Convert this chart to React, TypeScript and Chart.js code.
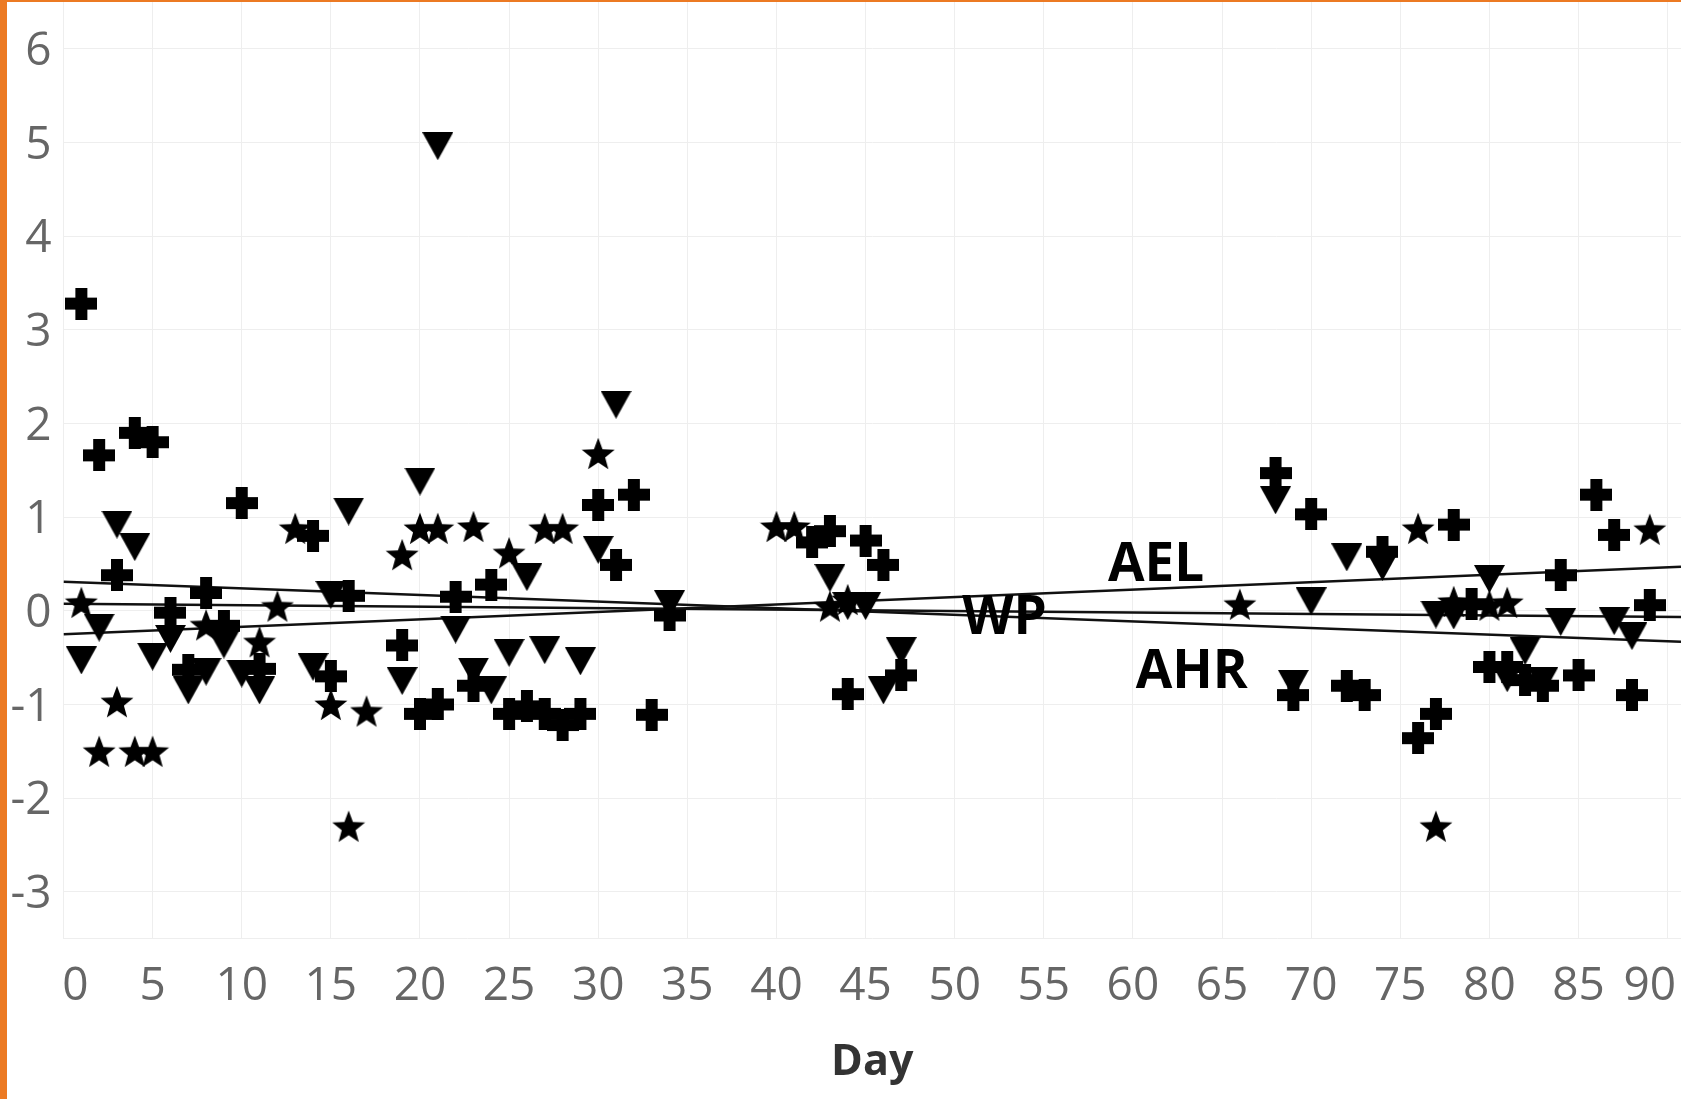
import React, { useEffect, useRef } from 'react';
import { Chart, registerables } from 'chart.js';

Chart.register(...registerables);

// Plus-shaped markers
const crossDays = [1, 2, 3, 4, 5, 6, 7, 8, 9, 10, 11, 14, 15, 16, 19, 20, 21, 22, 23, 24, 25, 26, 27, 28, 29, 30, 31, 32, 33, 34, 42, 43, 44, 45, 46, 47, 68, 69, 70, 72, 73, 74, 76, 77, 78, 79, 80, 81, 82, 83, 84, 85, 86, 87, 88, 89];
const crossValues = [3.28, 1.66, 0.38, 1.9, 1.8, -0.02, -0.63, 0.19, -0.16, 1.15, -0.62, 0.8, -0.7, 0.16, -0.37, -1.1, -1.0, 0.15, -0.8, 0.28, -1.1, -1.02, -1.1, -1.22, -1.1, 1.13, 0.49, 1.24, -1.11, -0.05, 0.73, 0.85, -0.89, 0.75, 0.49, -0.69, 1.47, -0.9, 1.03, -0.8, -0.9, 0.63, -1.36, -1.1, 0.92, 0.07, -0.6, -0.6, -0.74, -0.8, 0.38, -0.69, 1.24, 0.81, -0.9, 0.06];

// Downward-triangle markers
const triangleDays = [1, 2, 3, 4, 5, 6, 7, 8, 9, 10, 11, 14, 15, 16, 19, 20, 21, 22, 23, 24, 25, 26, 27, 29, 30, 31, 34, 43, 44, 45, 46, 47, 68, 69, 70, 72, 74, 77, 78, 80, 81, 82, 83, 84, 87, 88];
const triangleValues = [-0.53, -0.18, 0.92, 0.68, -0.49, -0.3, -0.85, -0.65, -0.36, -0.67, -0.85, -0.6, 0.17, 1.06, -0.75, 1.38, 4.96, -0.2, -0.65, -0.85, -0.45, 0.36, -0.42, -0.54, 0.65, 2.2, 0.07, 0.35, 0.05, 0.05, -0.85, -0.43, 1.18, -0.78, 0.1, 0.57, 0.47, -0.04, -0.05, 0.34, -0.72, -0.43, -0.75, -0.12, -0.11, -0.27];

// Star markers
const starDays = [1, 2, 3, 4, 5, 8, 11, 12, 13, 15, 16, 17, 19, 20, 21, 23, 25, 27, 28, 30, 40, 41, 43, 44, 66, 76, 77, 78, 80, 81, 89];
const starValues = [0.09, -1.5, -0.97, -1.5, -1.5, -0.15, -0.33, 0.05, 0.88, -1.0, -2.3, -1.07, 0.6, 0.88, 0.88, 0.9, 0.62, 0.88, 0.88, 1.68, 0.9, 0.9, 0.05, 0.12, 0.07, 0.88, -2.3, 0.1, 0.06, 0.09, 0.87];

// Trend lines (values at the two ends of the day axis)
const trendDays = [0, 90.75];
const aelTrend = [-0.25, 0.47];
const wpTrend = [0.075, -0.065];
const ahrTrend = [0.31, -0.33];

// Trend line labels
const lineLabels = ['AEL', 'WP', 'AHR'];
const lineLabelDays = [61.3, 52.8, 63.3];
const lineLabelValues = [0.48, -0.09, -0.66];

// Axes
const xTicks = [0, 5, 10, 15, 20, 25, 30, 35, 40, 45, 50, 55, 60, 65, 70, 75, 80, 85, 90];
const yTicks = [-3, -2, -1, 0, 1, 2, 3, 4, 5, 6];
const xMin = 0;
const xMax = 90.75;
const yMin = -3.5;
const yMax = 6.5;

const toPoints = (xs: number[], ys: number[]) => xs.map((x, i) => ({ x, y: ys[i] }));

function makeCross(size: number, arm: number) {
  const c = document.createElement('canvas');
  c.width = size;
  c.height = size;
  const g = c.getContext('2d')!;
  g.fillStyle = '#000';
  const o = (size - arm) / 2;
  g.fillRect(o, 0, arm, size);
  g.fillRect(0, o, size, arm);
  return c;
}

function makeTriangle(w: number, h: number) {
  const c = document.createElement('canvas');
  c.width = w;
  c.height = h;
  const g = c.getContext('2d')!;
  g.fillStyle = '#000';
  g.beginPath();
  g.moveTo(0, 0);
  g.lineTo(w, 0);
  g.lineTo(w / 2, h);
  g.closePath();
  g.fill();
  return c;
}

function makeStar(R: number, innerRatio: number) {
  const w = Math.ceil(2 * R * Math.sin((72 * Math.PI) / 180)) + 1;
  const hStar = R * (1 + Math.cos((36 * Math.PI) / 180));
  const h = Math.ceil(hStar) + 1;
  const c = document.createElement('canvas');
  c.width = w;
  c.height = h;
  const g = c.getContext('2d')!;
  g.fillStyle = '#000';
  const cx = w / 2;
  const cy = (h - hStar) / 2 + R;
  g.beginPath();
  for (let i = 0; i < 10; i++) {
    const r = i % 2 === 0 ? R : R * innerRatio;
    const a = -Math.PI / 2 + (i * Math.PI) / 5;
    const px = cx + r * Math.cos(a);
    const py = cy + r * Math.sin(a);
    if (i === 0) g.moveTo(px, py);
    else g.lineTo(px, py);
  }
  g.closePath();
  g.fill();
  return c;
}

const labelPlugin = {
  id: 'trendLabels',
  afterDatasetsDraw(chart: any) {
    const { ctx, scales } = chart;
    ctx.save();
    ctx.font = '700 53px "Open Sans"';
    ctx.fillStyle = '#000';
    ctx.textAlign = 'center';
    ctx.textBaseline = 'middle';
    lineLabels.forEach((t, i) => {
      ctx.fillText(t, scales.x.getPixelForValue(lineLabelDays[i]), scales.y.getPixelForValue(lineLabelValues[i]));
    });
    ctx.restore();
  },
};

export default function App() {
  const ref = useRef<HTMLCanvasElement | null>(null);

  useEffect(() => {
    if (!ref.current) return;
    const crossImg = makeCross(32, 12);
    const triImg = makeTriangle(31, 28);
    const starImg = makeStar(17.3, 0.42);

    const lineStyle = {
      type: 'line' as const,
      borderColor: '#111',
      borderWidth: 2.5,
      pointRadius: 0,
      fill: false,
      tension: 0,
    };

    const chart = new Chart(ref.current, {
      type: 'scatter',
      data: {
        datasets: [
          { label: 'Cross', data: toPoints(crossDays, crossValues), pointStyle: crossImg as any, pointRadius: 16, backgroundColor: '#000', borderColor: '#000' },
          { label: 'Triangle', data: toPoints(triangleDays, triangleValues), pointStyle: triImg as any, pointRadius: 15, backgroundColor: '#000', borderColor: '#000' },
          { label: 'Star', data: toPoints(starDays, starValues), pointStyle: starImg as any, pointRadius: 16, backgroundColor: '#000', borderColor: '#000' },
          { ...lineStyle, label: 'AEL', data: toPoints(trendDays, aelTrend) } as any,
          { ...lineStyle, label: 'WP', data: toPoints(trendDays, wpTrend) } as any,
          { ...lineStyle, label: 'AHR', data: toPoints(trendDays, ahrTrend) } as any,
        ],
      },
      options: {
        responsive: false,
        animation: false,
        devicePixelRatio: 1,
        layout: { padding: 0, autoPadding: false },
        plugins: { legend: { display: false }, tooltip: { enabled: false } },
        scales: {
          x: {
            type: 'linear',
            min: xMin,
            max: xMax,
            afterBuildTicks: (s: any) => {
              s.ticks = xTicks.map((v) => ({ value: v }));
            },
            afterFit: (s: any) => {
              s.height = 160.4;
              s.paddingLeft = 0;
              s.paddingRight = 0;
            },
            ticks: {
              maxRotation: 0,
              autoSkip: false,
              padding: 21,
              color: '#666',
              font: { family: '"Open Sans"', size: 46 },
              callback: (v: any) => {
                if (v === 0) return '\u00A0\u00A00';
                if (v === 90) return '90\u00A0\u00A0\u00A0';
                return String(v);
              },
            },
            grid: { color: '#eeeeee', lineWidth: 1, drawTicks: false },
            border: { display: true, color: '#eeeeee' },
            title: {
              display: true,
              text: 'Day',
              color: '#333',
              font: { family: '"Open Sans"', size: 43, weight: 'bold' },
              padding: { top: 0, bottom: 10 },
            },
          },
          y: {
            type: 'linear',
            min: yMin,
            max: yMax,
            afterBuildTicks: (s: any) => {
              s.ticks = yTicks.map((v) => ({ value: v }));
            },
            afterFit: (s: any) => {
              s.width = 56.5;
              s.paddingTop = 0;
              s.paddingBottom = 0;
            },
            ticks: {
              padding: 12,
              labelOffset: 3,
              color: '#666',
              font: { family: '"Open Sans"', size: 46 },
              callback: (v: any) => String(v),
            },
            grid: { color: '#eeeeee', lineWidth: 1, drawTicks: false },
            border: { display: false },
          },
        },
      },
      plugins: [labelPlugin],
    });
    return () => chart.destroy();
  }, []);

  return (
    <div style={{ position: 'fixed', left: 0, top: 0, width: 1681, height: 1099, background: '#fff', overflow: 'hidden' }}>
      <div style={{ position: 'absolute', left: 0, top: 0, width: 7, height: 1099, background: '#ec7a23' }} />
      <div style={{ position: 'absolute', left: 0, top: 0, width: 1681, height: 2, background: '#ec7a23' }} />
      <div style={{ position: 'absolute', left: 7, top: 2, width: 1674, height: 1097 }}>
        <canvas ref={ref} width={1674} height={1097} style={{ display: 'block' }} />
      </div>
    </div>
  );
}
